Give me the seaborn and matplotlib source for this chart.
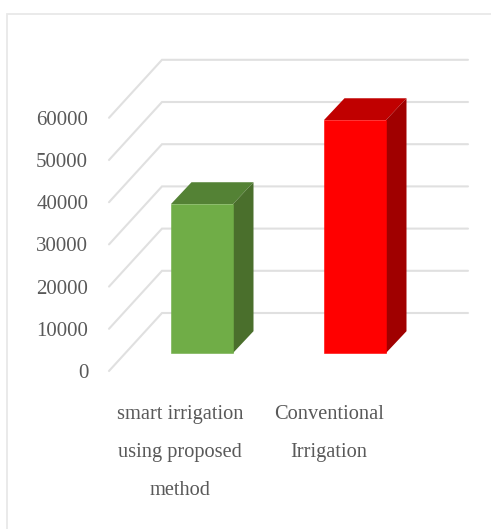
import matplotlib
matplotlib.use("Agg")
import matplotlib.pyplot as plt
import seaborn as sns
from matplotlib.lines import Line2D

categories = ["smart irrigation\nusing proposed\nmethod", "Conventional\nIrrigation"]
water_use = [35300, 55200]
y_ticks = [0, 10000, 20000, 30000, 40000, 50000, 60000]
front_colors = ["#70ad47", "#ff0000"]
top_colors = ["#548235", "#c00000"]
side_colors = ["#4a6f2c", "#a00000"]

W, H = 491, 529
TEXT = "#595959"
GRID = "#e0e0e0"
FONT = "Liberation Serif"

sns.set_theme(style="white")
plt.rcParams["font.family"] = [FONT, "DejaVu Sans"]

fig = plt.figure(figsize=(W / 100, H / 100), dpi=100, facecolor="white")
# card border: left and top edges only are visible
fig.add_artist(Line2D([7 / W, 7 / W, 1], [0, 1 - 14 / H, 1 - 14 / H], transform=fig.transFigure,
                      color="#e8e8e8", lw=1.3, solid_joinstyle="miter"))

# plot window in pixels
left, right, top, bottom = 109, 468, 60, 371
pos = [left / W, 1 - bottom / H, (right - left) / W, (bottom - top) / H]
ax = fig.add_axes(pos, facecolor="none", zorder=2)
ax_ticks = fig.add_axes(pos, facecolor="none", zorder=1)

PX_PER_UNIT_Y = 42.2 / 10000
PX_PER_CAT = 153.0
BASE_PX = 353.0
FIRST_BAR_PX = 202.0

sns.barplot(x=categories, y=water_use, hue=categories, palette=front_colors, legend=False,
            width=62 / PX_PER_CAT, saturation=1, ax=ax, zorder=4)
ax.set_xlim((left - FIRST_BAR_PX) / PX_PER_CAT, (right - FIRST_BAR_PX) / PX_PER_CAT)
ax.set_ylim((BASE_PX - bottom) / PX_PER_UNIT_Y, (BASE_PX - top) / PX_PER_UNIT_Y)
ax.axis("off")

# bar depth, expressed in data units
dx = 20.5 / PX_PER_CAT
dy = 21.8 / PX_PER_UNIT_Y
for bar, fc, tc, sc in zip(ax.patches, front_colors, top_colors, side_colors):
    bar.set_edgecolor(fc)
    bar.set_linewidth(0.4)
    x0, w, h = bar.get_x(), bar.get_width(), bar.get_height()
    x1 = x0 + w
    ax.fill([x0, x1, x1 + dx, x0 + dx], [h, h, h + dy, h + dy], color=tc, lw=0, zorder=3)
    ax.fill([x1, x1 + dx, x1 + dx, x1], [0, dy, h + dy, h], color=sc, lw=0, zorder=3)

# floor and back-wall gridlines
wall_x = (162 - left) / PX_PER_CAT
wall_y = 58 / PX_PER_UNIT_Y
front_drop = (bottom - BASE_PX) / PX_PER_UNIT_Y
xl = ax.get_xlim()
for v in y_ticks:
    yf = v - front_drop
    ax.plot([xl[0], xl[0] + wall_x, xl[1]], [yf, yf + wall_y, yf + wall_y],
            color=GRID, lw=1.5, zorder=1, clip_on=False, solid_joinstyle="miter")

# tick axes sit on the front plane
ax_ticks.set_ylim(0, (bottom - top) / PX_PER_UNIT_Y)
ax_ticks.set_xlim((left - 180) / 149, (right - 180) / 149)
ax_ticks.set_yticks(y_ticks)
ax_ticks.set_yticklabels([str(v) for v in y_ticks], color=TEXT, fontsize=15, family=FONT)
ax_ticks.set_xticks([0, 1])
ax_ticks.set_xticklabels(categories, color=TEXT, fontsize=14.7, family=FONT, linespacing=2.36, va="top")
ax_ticks.tick_params(axis="y", length=0, pad=15)
ax_ticks.tick_params(axis="x", length=0, pad=24.5)
sns.despine(ax=ax_ticks, left=True, bottom=True)
ax_ticks.grid(False)

fig.savefig("out.png", dpi=100)
